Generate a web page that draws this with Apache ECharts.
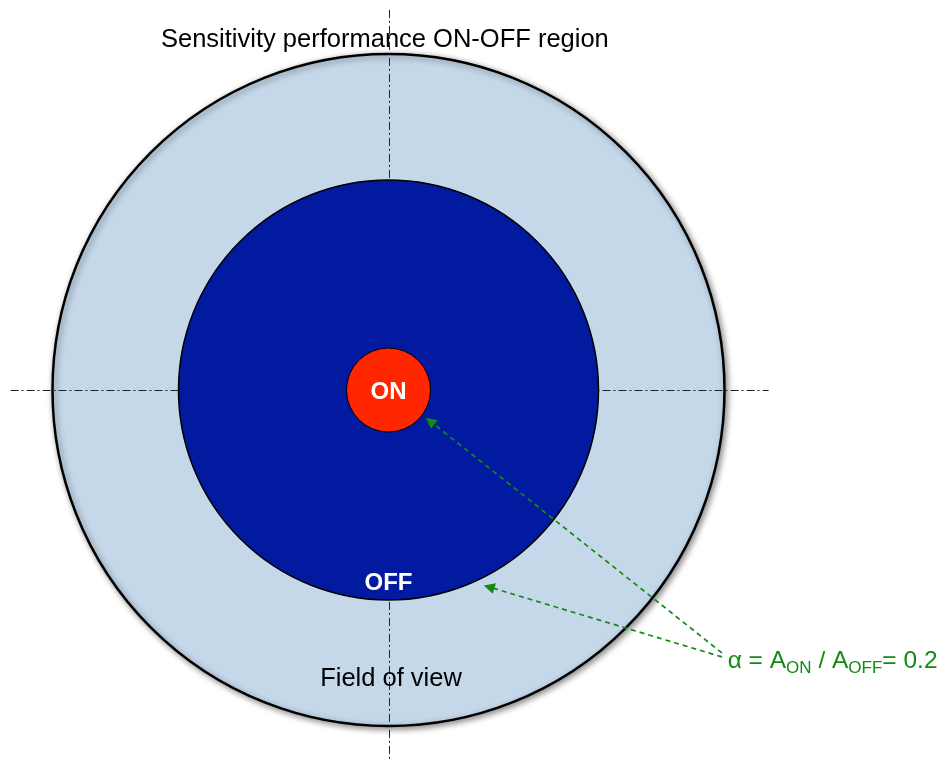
<!DOCTYPE html>
<html>
<head>
<meta charset="utf-8">
<script src="https://cdn.jsdelivr.net/npm/echarts@6/dist/echarts.min.js"></script>
<style>html,body{margin:0;padding:0;background:#fff}#c{width:950px;height:764px}</style>
</head>
<body>
<div id="c"></div>
<script>
// ---- data ----
const titleText = 'Sensitivity performance ON-OFF region';
const regionNames = ['Field of view', 'OFF', 'ON'];
const regionCenter = [0, 0];
const regionRadii = [1.6, 1.0, 0.2];          // relative radii (OFF radius = 1)
const crossH = [[-1.80, 0], [1.81, 0]];
const crossV = [[0.003, 1.81], [0.003, -1.77]];
const labelNames = ['ON', 'OFF', 'Field of view'];
const labelPos = [[0.0, -0.01], [0.0, -0.92], [0.012, -1.378]];
const formulaPos = [1.615, -1.29];
const arrowTail = [[1.588, -1.252], [1.588, -1.271]];
const arrowHead = [[0.198, -0.148], [0.479, -0.938]];
const alphaValue = 0.2;

// ---- layout (pixel mapping) ----
const W = 950, H = 764, PX = 210, CX = 388.5, CY = 390;
const FONT = 'Liberation Sans, Arial, Helvetica, sans-serif';
const GREEN = '#138a13';

function circleRender(fill, stroke, lw, shadow) {
  return function (params, api) {
    const c = api.coord([api.value(0), api.value(1)]);
    const r = api.size([api.value(2), 0])[0];
    const style = { fill: fill, stroke: stroke, lineWidth: lw };
    if (shadow) {
      style.shadowBlur = 6; style.shadowColor = 'rgba(0,0,0,0.45)';
      style.shadowOffsetX = 2; style.shadowOffsetY = 2;
    }
    return { type: 'circle', shape: { cx: c[0], cy: c[1], r: r }, style: style };
  };
}

const chart = echarts.init(document.getElementById('c'), null, { renderer: 'canvas' });
const option = {
  backgroundColor: '#ffffff',
  animation: false,
  title: {
    text: titleText, left: 161, top: 27, padding: 0,
    textStyle: { fontFamily: FONT, fontSize: 25.5, fontWeight: 'normal', color: '#000' }
  },
  grid: { left: 0, top: 0, right: 0, bottom: 0 },
  xAxis: { type: 'value', min: -CX / PX, max: (W - CX) / PX, show: false },
  yAxis: { type: 'value', min: -(H - CY) / PX, max: CY / PX, show: false },
  series: [
    {
      type: 'custom', name: regionNames[0], z: 1, silent: true,
      renderItem: circleRender('#c5d8ea', '#000', 2.5, true),
      encode: { x: 0, y: 1 },
      data: [[regionCenter[0], regionCenter[1], regionRadii[0]]]
    },
    {
      type: 'lines', coordinateSystem: 'cartesian2d', z: 2, silent: true,
      symbol: 'none',
      lineStyle: { color: '#222', width: 1, type: [8, 3, 2, 3], opacity: 1 },
      data: [{ coords: crossH }, { coords: crossV }]
    },
    {
      type: 'custom', name: regionNames[1], z: 3, silent: true,
      renderItem: circleRender('#011a9f', '#000', 1.5, false),
      encode: { x: 0, y: 1 },
      data: [[regionCenter[0], regionCenter[1], regionRadii[1]]]
    },
    {
      type: 'custom', name: regionNames[2], z: 4, silent: true,
      renderItem: circleRender('#ff2600', '#000', 1, false),
      encode: { x: 0, y: 1 },
      data: [[regionCenter[0], regionCenter[1], regionRadii[2]]]
    },
    {
      type: 'lines', coordinateSystem: 'cartesian2d', z: 5, silent: true,
      symbol: ['none', 'triangle'], symbolSize: [0, 11],
      lineStyle: { color: GREEN, width: 1.7, type: [5, 4], opacity: 1 },
      itemStyle: { color: GREEN },
      data: arrowTail.map((t, i) => ({ coords: [t, arrowHead[i]] }))
    },
    {
      type: 'scatter', z: 6, silent: true, symbolSize: 0,
      itemStyle: { opacity: 1 },
      label: { show: true, position: 'inside', formatter: '{b}', fontFamily: FONT, opacity: 1 },
      data: [
        { name: labelNames[0], value: labelPos[0],
          label: { color: '#ffffff', fontWeight: 'bold', fontSize: 24, opacity: 1 } },
        { name: labelNames[1], value: labelPos[1],
          label: { color: '#ffffff', fontWeight: 'bold', fontSize: 24, opacity: 1 } },
        { name: labelNames[2], value: labelPos[2],
          label: { color: '#000000', fontWeight: 'normal', fontSize: 25.5, opacity: 1 } },
        { name: 'alpha', value: formulaPos,
          label: {
            position: 'right', distance: 0, opacity: 1,
            formatter: '{m|\u03b1 = A}{s|ON}{m| / A}{s|OFF}{m|= ' + alphaValue + '}',
            rich: {
              m: { fontFamily: FONT, fontSize: 24.5, color: GREEN, lineHeight: 30, opacity: 1 },
              s: { fontFamily: FONT, fontSize: 17, color: GREEN, lineHeight: 17, padding: [15, 0, 0, 0], opacity: 1 }
            }
          } }
      ]
    }
  ]
};
chart.setOption(option);
</script>
</body>
</html>
